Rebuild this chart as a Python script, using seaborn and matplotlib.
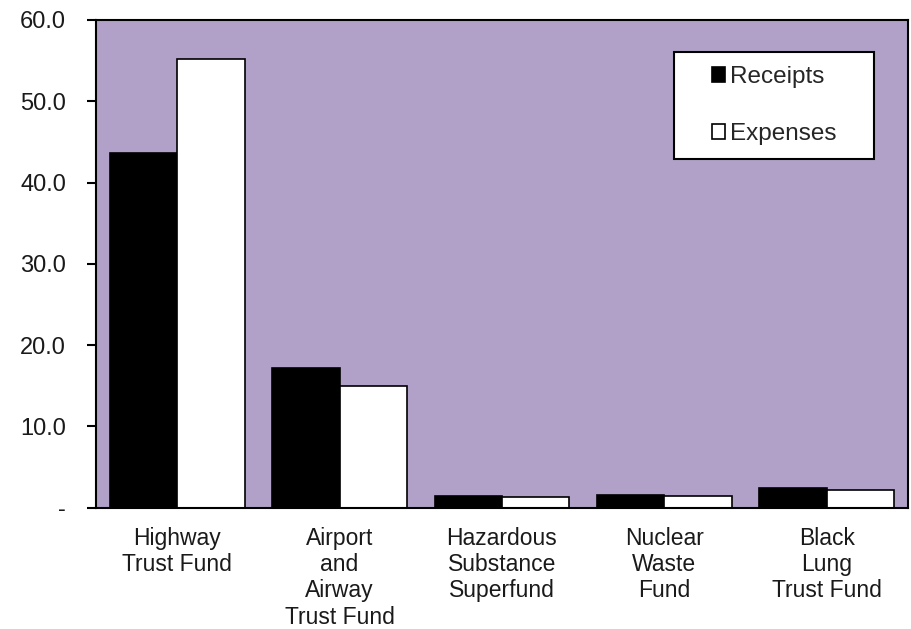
import matplotlib
matplotlib.use("Agg")
import matplotlib.pyplot as plt
import seaborn as sns
import pandas as pd
from matplotlib.patches import Patch, Rectangle

# Trust fund receipts and expenses (billions of dollars)
funds = ["Highway\nTrust Fund", "Airport\nand\nAirway\nTrust Fund",
         "Hazardous\nSubstance\nSuperfund", "Nuclear\nWaste\nFund",
         "Black\nLung\nTrust Fund"]
receipts = [43.6, 17.2, 1.45, 1.6, 2.4]
expenses = [55.2, 15.0, 1.25, 1.4, 2.15]
series = ["Receipts", "Expenses"]
yticks = [0, 10, 20, 30, 40, 50, 60]
ytick_labels = ["-", "10.0", "20.0", "30.0", "40.0", "50.0", "60.0"]

df = pd.DataFrame({
    "fund": funds * 2,
    "value": receipts + expenses,
    "series": [series[0]] * len(funds) + [series[1]] * len(funds),
})

sns.set_theme(style="white")
plt.rcParams["font.family"] = ["Liberation Sans", "DejaVu Sans"]

W, H = 911, 629
fig = plt.figure(figsize=(W / 100, H / 100), dpi=100)
ax = fig.add_axes([96 / W, (H - 507.5) / H, 812 / W, 487.5 / H])
ax.set_facecolor("#b1a1c8")

sns.barplot(data=df, x="fund", y="value", hue="series",
            palette=["black", "white"], edgecolor="black", linewidth=1.2,
            width=0.83, gap=0, ax=ax, legend=False)

ax.set_xlim(-0.5, len(funds) - 0.5)
ax.set_ylim(0, 60)
ax.set_yticks(yticks)
ax.set_yticklabels(ytick_labels, fontsize=17)
ax.tick_params(axis="y", direction="out", length=6.5, width=1.5, color="black",
               left=True, pad=15, labelcolor="#1a1a1a")
ax.tick_params(axis="x", length=0, pad=14, labelsize=16.5, labelcolor="#1a1a1a")
for lbl in ax.get_xticklabels():
    lbl.set_linespacing(1.18)
ax.set_xlabel("")
ax.set_ylabel("")
for side in ["left", "bottom", "top", "right"]:
    ax.spines[side].set_visible(True)
    ax.spines[side].set_color("black")
    ax.spines[side].set_linewidth(1.5)

# Legend box with its own frame
box_l, box_t, box_r, box_b = 674, 52, 874, 159
frame = Rectangle((box_l / W, (H - box_b) / H), (box_r - box_l) / W,
                  (box_b - box_t) / H, transform=fig.transFigure,
                  facecolor="white", edgecolor="black", linewidth=1.5,
                  zorder=10)
fig.patches.append(frame)

handles = [Patch(facecolor="black", edgecolor="black", linewidth=1.2),
           Patch(facecolor="white", edgecolor="black", linewidth=1.2)]
leg = fig.legend(handles, series, loc="center",
                 bbox_to_anchor=((box_l + box_r) / 2 / W,
                                 (H - (box_t + box_b) / 2) / H),
                 fontsize=17.5, frameon=False,
                 handlelength=0.55, handleheight=0.55,
                 handletextpad=0.2, labelspacing=1.45,
                 borderpad=0, borderaxespad=0)
leg.set_zorder(11)

fig.savefig("out.png", dpi=100, facecolor="white")
